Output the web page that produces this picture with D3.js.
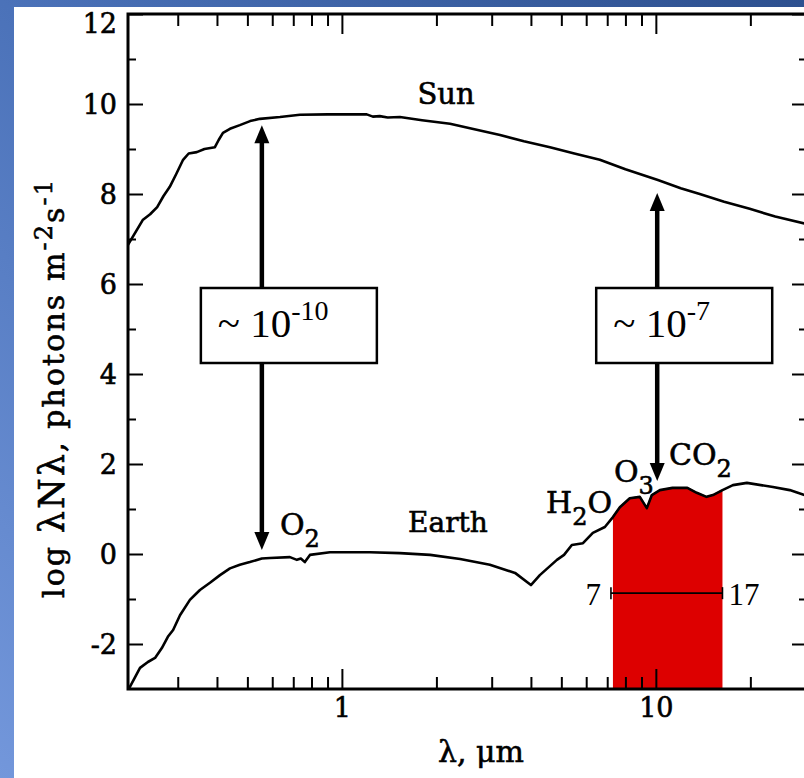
<!DOCTYPE html>
<html>
<head>
    <meta charset="UTF-8">
    <title>Sun and Earth photon flux</title>
    <script src="https://cdn.jsdelivr.net/npm/d3@7"></script>
    <style>
        body { margin: 0; padding: 0; }
        text { fill: #000; }
        .heavy { stroke: #000; stroke-width: 0.6px; }
    </style>
</head>
<body>
<div id="chart"></div>
<script>

    // Sun spectrum: wavelength (um) and log lambda N_lambda
    var sunLambda = [0.2083, 0.232, 0.245, 0.258, 0.270, 0.283, 0.297, 0.312, 0.325, 0.345, 0.365, 0.394,
                     0.405, 0.418, 0.440, 0.473, 0.510, 0.548, 0.635, 0.735, 0.90, 1.20, 1.255, 1.32, 1.40,
                     1.53, 1.80, 2.21, 2.60, 3.19, 3.80, 4.60, 5.50, 6.63, 8.00, 10.15, 12.0, 13.8, 16.5,
                     19.9, 24.0, 30.3];
    var sunLog    = [6.87, 7.42, 7.55, 7.71, 7.95, 8.16, 8.45, 8.76, 8.90, 8.93, 9.00, 9.04,
                     9.20, 9.36, 9.45, 9.53, 9.62, 9.67, 9.71, 9.76, 9.77, 9.77, 9.72, 9.73, 9.70,
                     9.71, 9.64, 9.56, 9.45, 9.31, 9.17, 9.04, 8.90, 8.76, 8.55, 8.31, 8.13, 8.00, 7.83,
                     7.67, 7.50, 7.33];

    // Earth spectrum
    var earthLambda = [0.2083, 0.211, 0.2275, 0.241, 0.254, 0.267, 0.279, 0.290, 0.305, 0.328, 0.353, 0.380,
                       0.409, 0.440, 0.473, 0.509, 0.556, 0.590, 0.683, 0.719, 0.740, 0.762, 0.791, 0.916,
                       1.228, 1.53, 1.91, 2.38, 2.96, 3.56, 4.00, 4.27, 4.84, 5.10, 5.40, 5.86, 6.30, 6.88,
                       7.30, 7.68, 8.26, 8.89, 9.36, 9.71, 10.3, 11.3, 12.6, 13.5, 14.5, 15.2, 16.3, 17.6,
                       19.5, 23.6, 26.7, 30.3];
    var earthLog    = [-3.00, -2.96, -2.53, -2.40, -2.31, -2.09, -1.84, -1.69, -1.36, -1.02, -0.80, -0.64,
                       -0.47, -0.32, -0.24, -0.18, -0.10, -0.09, -0.07, -0.13, -0.10, -0.18, -0.02, 0.04,
                       0.04, 0.02, -0.02, -0.11, -0.24, -0.42, -0.69, -0.47, -0.13, -0.02, 0.20, 0.24, 0.47, 0.60,
                       0.82, 1.04, 1.24, 1.27, 1.02, 1.31, 1.42, 1.47, 1.47, 1.36, 1.27, 1.31, 1.42, 1.53,
                       1.58, 1.49, 1.42, 1.29];

    // atmospheric window band
    var bandRange  = [7.3, 16.3];
    var bandLabels = ["7", "17"];
    var bandBarLevel = -0.87;

    // ratio arrows
    var arrowLambda = [0.556, 10.1];
    var arrowUpTo   = [9.53, 8.02];
    var arrowDownTo = [0.09, 1.62];
    var ratioBase   = ["10", "10"];
    var ratioExp    = ["-10", "-7"];

    // axes
    var xTicks = [1, 10];
    var xMinor = [0.3, 0.4, 0.5, 0.6, 0.7, 0.8, 0.9, 2, 3, 4, 5, 6, 7, 8, 9, 20, 30];
    var yTicks = [-2, 0, 2, 4, 6, 8, 10, 12];
    var yMinor = [-1, 1, 3, 5, 7, 9, 11];

    // -------------------------------------------------------------
    var W = 804, H = 778;
    var pL = 128, pR = 807, pT = 14, pB = 689;
    var serif = "DejaVu Serif";
    var times = "Liberation Serif";

    var svg = d3.select("#chart").append("svg")
            .attr("width", W)
            .attr("height", H);

    var defs = svg.append("defs");
    var grad = defs.append("linearGradient")
            .attr("id", "bg")
            .attr("x1", 0).attr("y1", 1).attr("x2", 1).attr("y2", 0);
    grad.append("stop").attr("offset", "0").attr("stop-color", "#7397db");
    grad.append("stop").attr("offset", "0.5").attr("stop-color", "#4b72b9");
    grad.append("stop").attr("offset", "1").attr("stop-color", "#2d508f");

    svg.append("rect").attr("width", W).attr("height", H).attr("fill", "url(#bg)");
    svg.append("rect").attr("x", 14).attr("y", 7).attr("width", W - 14).attr("height", H - 7).attr("fill", "#fff");

    var x = d3.scaleLog().domain([0.2083, 30.3]).range([pL, pR]);
    var y = d3.scaleLinear().domain([-3, 12]).range([pB, pT]);

    defs.append("clipPath").attr("id", "plot")
            .append("rect").attr("x", pL).attr("y", pT)
            .attr("width", pR - pL).attr("height", pB - pT);
    defs.append("clipPath").attr("id", "band")
            .append("rect").attr("x", x(bandRange[0])).attr("y", pT)
            .attr("width", x(bandRange[1]) - x(bandRange[0])).attr("height", pB - pT);

    var sun = sunLambda.map(function (d, i) { return [d, sunLog[i]]; });
    var earth = earthLambda.map(function (d, i) { return [d, earthLog[i]]; });

    // red band under the Earth curve
    var area = d3.area()
            .x(function (d) { return x(d[0]); })
            .y0(y(-3))
            .y1(function (d) { return y(d[1]); });
    svg.append("path")
            .datum(earth)
            .attr("clip-path", "url(#band)")
            .attr("d", area)
            .attr("fill", "#dd0000")
            .attr("stroke", "#5a0000")
            .attr("stroke-width", 1.5);

    var line = d3.line()
            .x(function (d) { return x(d[0]); })
            .y(function (d) { return y(d[1]); });

    var curves = svg.append("g").attr("clip-path", "url(#plot)");
    [sun, earth].forEach(function (s) {
        curves.append("path")
                .datum(s)
                .attr("d", line)
                .attr("fill", "none")
                .attr("stroke", "#000")
                .attr("stroke-width", 2.6)
                .attr("stroke-linejoin", "round");
    });

    // ticks, all pointing inward
    function tickStyle(g) {
        g.select(".domain").remove();
        g.selectAll(".tick line").attr("stroke", "#000").attr("stroke-width", 2);
        g.selectAll(".tick text")
                .attr("class", "heavy")
                .attr("font-family", serif)
                .attr("font-size", 27)
                .attr("fill", "#000");
    }

    svg.append("g").attr("transform", "translate(0," + pB + ")")
            .call(d3.axisBottom(x).tickValues(xTicks).tickSize(-20).tickPadding(9)
                    .tickFormat(function (d) { return d; }))
            .call(tickStyle);
    svg.append("g").attr("transform", "translate(0," + pB + ")")
            .call(d3.axisBottom(x).tickValues(xMinor).tickSize(-12).tickFormat(""))
            .call(tickStyle);
    svg.append("g").attr("transform", "translate(0," + pT + ")")
            .call(d3.axisTop(x).tickValues(xTicks).tickSize(-20).tickFormat(""))
            .call(tickStyle);
    svg.append("g").attr("transform", "translate(0," + pT + ")")
            .call(d3.axisTop(x).tickValues(xMinor).tickSize(-12).tickFormat(""))
            .call(tickStyle);

    var yAxisG = svg.append("g").attr("transform", "translate(" + pL + ",0)")
            .call(d3.axisLeft(y).tickValues(yTicks).tickSize(-15).tickPadding(11)
                    .tickFormat(function (d) { return d; }))
            .call(tickStyle);
    // the top label sits below the frame corner
    yAxisG.selectAll(".tick text").attr("dy", function (d) { return d === 12 ? "0.7em" : "0.36em"; });

    svg.append("g").attr("transform", "translate(" + pL + ",0)")
            .call(d3.axisLeft(y).tickValues(yMinor).tickSize(-8).tickFormat(""))
            .call(tickStyle);
    svg.append("g").attr("transform", "translate(" + pR + ",0)")
            .call(d3.axisRight(y).tickValues(yTicks).tickSize(-15).tickFormat(""))
            .call(tickStyle);
    svg.append("g").attr("transform", "translate(" + pR + ",0)")
            .call(d3.axisRight(y).tickValues(yMinor).tickSize(-8).tickFormat(""))
            .call(tickStyle);

    // frame
    svg.append("rect")
            .attr("x", pL).attr("y", pT)
            .attr("width", pR - pL).attr("height", pB - pT)
            .attr("fill", "none")
            .attr("stroke", "#000")
            .attr("stroke-width", 3);

    // axis titles
    svg.append("text")
            .attr("class", "heavy")
            .attr("x", 481).attr("y", 762)
            .attr("text-anchor", "middle")
            .attr("font-family", serif)
            .attr("font-size", 30)
            .text("\u03bb, \u03bcm");

    var yt = svg.append("text")
            .attr("class", "heavy")
            .attr("transform", "translate(64,389) rotate(-90)")
            .attr("text-anchor", "middle")
            .attr("font-family", serif)
            .attr("font-size", 30)
            .attr("textLength", 418)
            .attr("lengthAdjust", "spacing");
    yt.append("tspan").text("log ");
    yt.append("tspan").attr("font-size", 35).text("\u03bbN\u03bb");
    yt.append("tspan").text(", photons m");
    yt.append("tspan").attr("dy", -12).attr("font-size", 24).text("-2");
    yt.append("tspan").attr("dy", 12).text("s");
    yt.append("tspan").attr("dy", -12).attr("font-size", 24).text("-1");

    // band bar with end caps
    var by = y(bandBarLevel);
    var bx0 = x(bandRange[0]) - 2, bx1 = x(bandRange[1]);
    svg.append("line").attr("x1", bx0).attr("x2", bx1).attr("y1", by).attr("y2", by)
            .attr("stroke", "#000").attr("stroke-width", 1.6);
    [bx0, bx1].forEach(function (bx) {
        svg.append("line").attr("x1", bx).attr("x2", bx).attr("y1", by - 6).attr("y2", by + 6)
                .attr("stroke", "#000").attr("stroke-width", 1.6);
    });
    svg.append("text").attr("x", bx0 - 10).attr("y", by + 12)
            .attr("text-anchor", "end").attr("font-family", times).attr("font-size", 31)
            .text(bandLabels[0]);
    svg.append("text").attr("x", bx1 + 6).attr("y", by + 12)
            .attr("text-anchor", "start").attr("font-family", times).attr("font-size", 31)
            .text(bandLabels[1]);

    // arrows and ratio boxes
    arrowLambda.forEach(function (l, i) {
        var ax = x(l);
        var yUp = y(arrowUpTo[i]), yDn = y(arrowDownTo[i]);
        svg.append("line")
                .attr("x1", ax).attr("x2", ax)
                .attr("y1", yUp + 12).attr("y2", yDn - 12)
                .attr("stroke", "#000").attr("stroke-width", 4.5);
        svg.append("path")
                .attr("d", "M" + ax + "," + yUp + "L" + (ax - 7.5) + "," + (yUp + 18) + "L" + (ax + 7.5) + "," + (yUp + 18) + "Z")
                .attr("fill", "#000");
        svg.append("path")
                .attr("d", "M" + ax + "," + yDn + "L" + (ax - 7.5) + "," + (yDn - 18) + "L" + (ax + 7.5) + "," + (yDn - 18) + "Z")
                .attr("fill", "#000");

        var bxl = ax - 61, byt = 288;
        svg.append("rect")
                .attr("x", bxl).attr("y", byt)
                .attr("width", 176).attr("height", 75)
                .attr("fill", "#fff")
                .attr("stroke", "#000").attr("stroke-width", 2.5);
        var t = svg.append("text")
                .attr("x", bxl + 17).attr("y", byt + 49)
                .attr("font-family", times)
                .attr("font-size", 41);
        t.append("tspan").text("~ " + ratioBase[i]);
        t.append("tspan").attr("dy", -17).attr("font-size", 28).text(ratioExp[i]);
    });

    // curve and molecule labels
    function label(px, py, parts, anchor, size) {
        var sub = Math.round(size * 0.8);
        var t = svg.append("text")
                .attr("class", "heavy")
                .attr("x", px).attr("y", py)
                .attr("text-anchor", anchor)
                .attr("font-family", serif)
                .attr("font-size", size);
        var shift = 0;
        parts.forEach(function (p) {
            var isSub = p.charAt(0) === "_";
            var dy = (isSub ? 12 : 0) - shift;
            shift = isSub ? 12 : 0;
            t.append("tspan").attr("dy", dy).attr("font-size", isSub ? sub : size).text(isSub ? p.slice(1) : p);
        });
    }
    label(446, 104, ["Sun"], "middle", 29);
    label(448, 532, ["Earth"], "middle", 28);
    label(280, 535, ["O", "_2"], "start", 30);
    label(546, 513, ["H", "_2", "O"], "start", 30);
    label(614, 482, ["O", "_3"], "start", 30);
    label(669, 465, ["CO", "_2"], "start", 30);

</script>
</body>
</html>
